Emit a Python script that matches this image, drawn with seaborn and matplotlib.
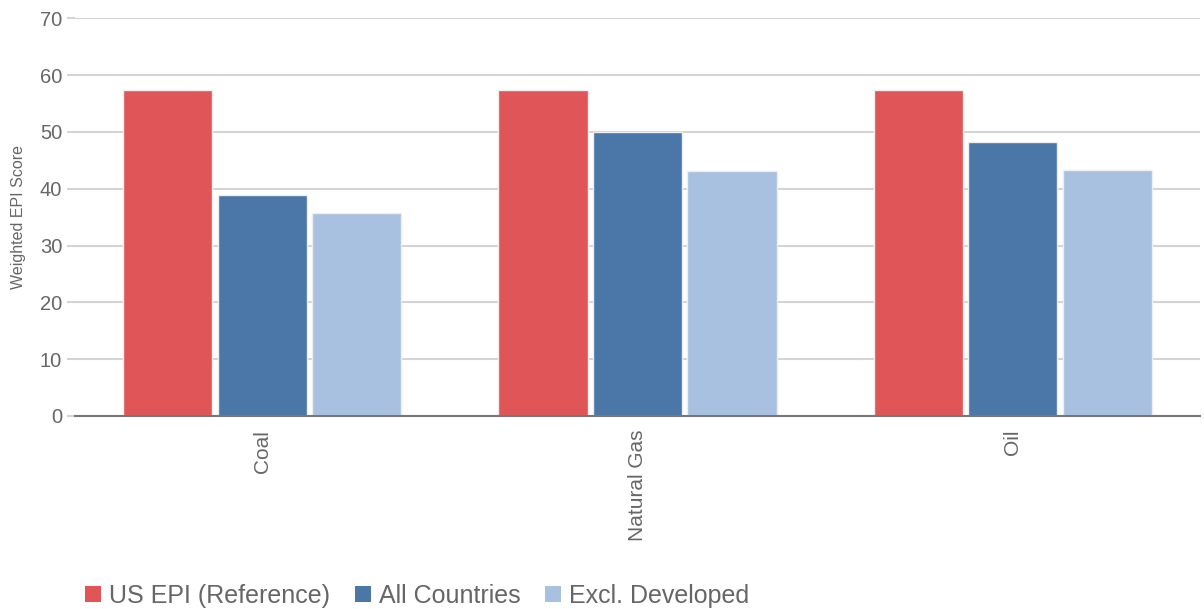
import matplotlib
matplotlib.use('Agg')
import matplotlib.pyplot as plt
import seaborn as sns
import pandas as pd

# Dados
fuels = ['Coal', 'Natural Gas', 'Oil']
series = ['US EPI (Reference)', 'All Countries', 'Excl. Developed']
us_epi = [57.3, 57.3, 57.3]
all_countries = [38.9, 50.0, 48.2]
excl_developed = [35.7, 43.1, 43.3]
colors = ['#E05557', '#4A76A8', '#A9C1E0']

df = pd.DataFrame({
    'fuel': fuels * 3,
    'series': [series[0]] * 3 + [series[1]] * 3 + [series[2]] * 3,
    'score': us_epi + all_countries + excl_developed,
})

sns.set_theme(style='white')
plt.rcParams['font.family'] = ['Liberation Sans', 'DejaVu Sans']

fig = plt.figure(figsize=(12.04, 6.09), dpi=100)
ax = fig.add_axes([0.062, 0.317, 0.935, 0.653])

sns.barplot(data=df, x='fuel', y='score', hue='series', hue_order=series,
            palette=colors, width=0.756, ax=ax, legend=False,
            edgecolor='#eeeeee', linewidth=1.0, saturation=1)

# deixar um pequeno espaço entre as barras do mesmo grupo
for p in ax.patches:
    cx = p.get_x() + p.get_width() / 2
    p.set_width(0.238)
    p.set_x(cx - 0.119)

ax.set_ylim(0, 70)
ax.set_yticks(range(0, 71, 10))
ax.yaxis.grid(True, color='#d4d4d4', linewidth=1.5)
ax.set_axisbelow(True)
for s in ['top', 'right', 'left']:
    ax.spines[s].set_visible(False)
ax.spines['bottom'].set_color('#777777')
ax.spines['bottom'].set_linewidth(1.5)
ax.tick_params(axis='y', colors='#d4d4d4', labelcolor='#666666', labelsize=14.5,
               length=6, width=1.5, left=True, pad=3)
ax.tick_params(axis='x', labelcolor='#666666', labelsize=15, length=0, pad=10)
plt.setp(ax.get_xticklabels(), rotation=90, va='top')
ax.set_xlabel('')
ax.set_ylabel('Weighted EPI Score', color='#666666', fontsize=11.5, labelpad=10)
ax.set_xlim(-0.5, 2.5)

handles = [plt.Rectangle((0, 0), 1, 1, facecolor=c, edgecolor='none') for c in colors]
fig.legend(handles, series, loc='lower left', bbox_to_anchor=(0.052, -0.035), ncol=3,
           frameon=False, fontsize=18, labelcolor='#666666', handlelength=0.65,
           handleheight=0.65, handletextpad=0.3, columnspacing=1.0)

fig.savefig('out.png', dpi=100)
